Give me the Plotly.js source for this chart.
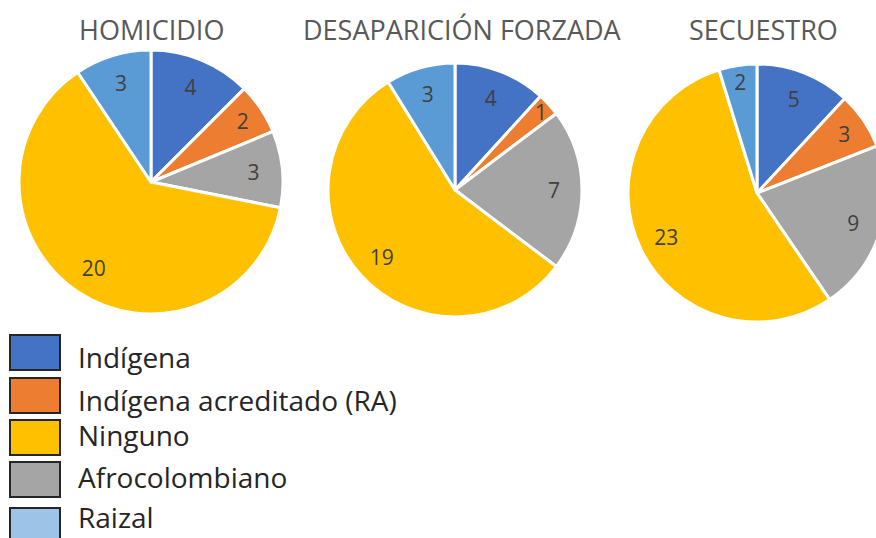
<!DOCTYPE html>
<html>
<head>
<meta charset="utf-8">
<script src="https://cdn.plot.ly/plotly-3.0.1.min.js"></script>
<style>
html,body{margin:0;padding:0;background:#fff;overflow:hidden;width:876px;height:538px;}
#chart{width:890px;height:538px;}
</style>
</head>
<body>
<div id="chart"></div>
<script>
// Data
const categories = ['Indígena', 'Indígena acreditado (RA)', 'Afrocolombiano', 'Ninguno', 'Raizal'];
const homicidio = [4, 2, 3, 20, 3];
const desaparicion = [4, 1, 7, 19, 3];
const secuestro = [5, 3, 9, 23, 2];
const pieTitles = ['HOMICIDIO', 'DESAPARICIÓN FORZADA', 'SECUESTRO'];
const legendLabels = ['Indígena', 'Indígena acreditado (RA)', 'Ninguno', 'Afrocolombiano', 'Raizal'];

// Styles
const sliceColors = ['#4472C4', '#ED7D31', '#A5A5A5', '#FFC000', '#5B9BD5'];
const legendColors = ['#4472C4', '#ED7D31', '#FFC000', '#A5A5A5', '#9DC3E6'];
const W = 890, H = 538;
const px = (a, b) => [a / W, b / W];
const py = (top, bottom) => [(H - bottom) / H, (H - top) / H];
const domains = [
  {x: px(19, 283), y: py(50, 314)},
  {x: px(328, 582), y: py(63, 317)},
  {x: px(628, 886), y: py(64, 322)}
];
const titlePos = [[151, 29], [462, 29], [763, 29]];
const series = [homicidio, desaparicion, secuestro];

const traces = [];
series.forEach((vals, i) => {
  // filled pie
  traces.push({
    type: 'pie',
    labels: categories,
    values: vals,
    sort: false,
    direction: 'clockwise',
    rotation: 0,
    domain: domains[i],
    marker: {colors: sliceColors, line: {color: '#ffffff', width: 3}},
    textinfo: 'none',
    hoverinfo: 'label+value',
    showlegend: false
  });
  // transparent ring carrying the value labels
  traces.push({
    type: 'pie',
    labels: categories,
    values: vals,
    sort: false,
    direction: 'clockwise',
    rotation: 0,
    hole: 0.56,
    domain: domains[i],
    marker: {colors: categories.map(() => 'rgba(0,0,0,0)'), line: {width: 0}},
    textinfo: 'value',
    textposition: 'inside',
    insidetextorientation: 'horizontal',
    insidetextfont: {family: 'Open Sans', size: 21, color: '#404040'},
    hoverinfo: 'skip',
    showlegend: false
  });
});

const annotations = [];
const shapes = [];
pieTitles.forEach((t, i) => {
  annotations.push({
    x: titlePos[i][0], y: titlePos[i][1], xref: 'x', yref: 'y',
    text: t, showarrow: false, xanchor: 'center', yanchor: 'middle',
    font: {family: 'Open Sans', size: 27, color: '#595959'}
  });
});
const rowTops = [335, 378, 420, 462, 508];
const textY = [357, 400, 435, 477, 517];
legendLabels.forEach((lab, i) => {
  shapes.push({
    type: 'rect', xref: 'x', yref: 'y',
    x0: 10, x1: 60, y0: rowTops[i], y1: rowTops[i] + 35,
    fillcolor: legendColors[i], line: {color: '#262626', width: 2}
  });
  annotations.push({
    x: 76, y: textY[i], xref: 'x', yref: 'y',
    text: lab, showarrow: false, xanchor: 'left', yanchor: 'middle',
    font: {family: 'Open Sans', size: 28, color: '#262626'}
  });
});

const layout = {
  width: W, height: H,
  margin: {l: 0, r: 0, t: 0, b: 0},
  paper_bgcolor: '#ffffff', plot_bgcolor: 'rgba(0,0,0,0)',
  xaxis: {range: [0, W], visible: false, fixedrange: true},
  yaxis: {range: [H, 0], visible: false, fixedrange: true},
  uniformtext: {mode: 'show', minsize: 21},
  showlegend: false,
  annotations: annotations,
  shapes: shapes
};

Plotly.newPlot('chart', traces, layout, {displayModeBar: false, staticPlot: true});
</script>
</body>
</html>
